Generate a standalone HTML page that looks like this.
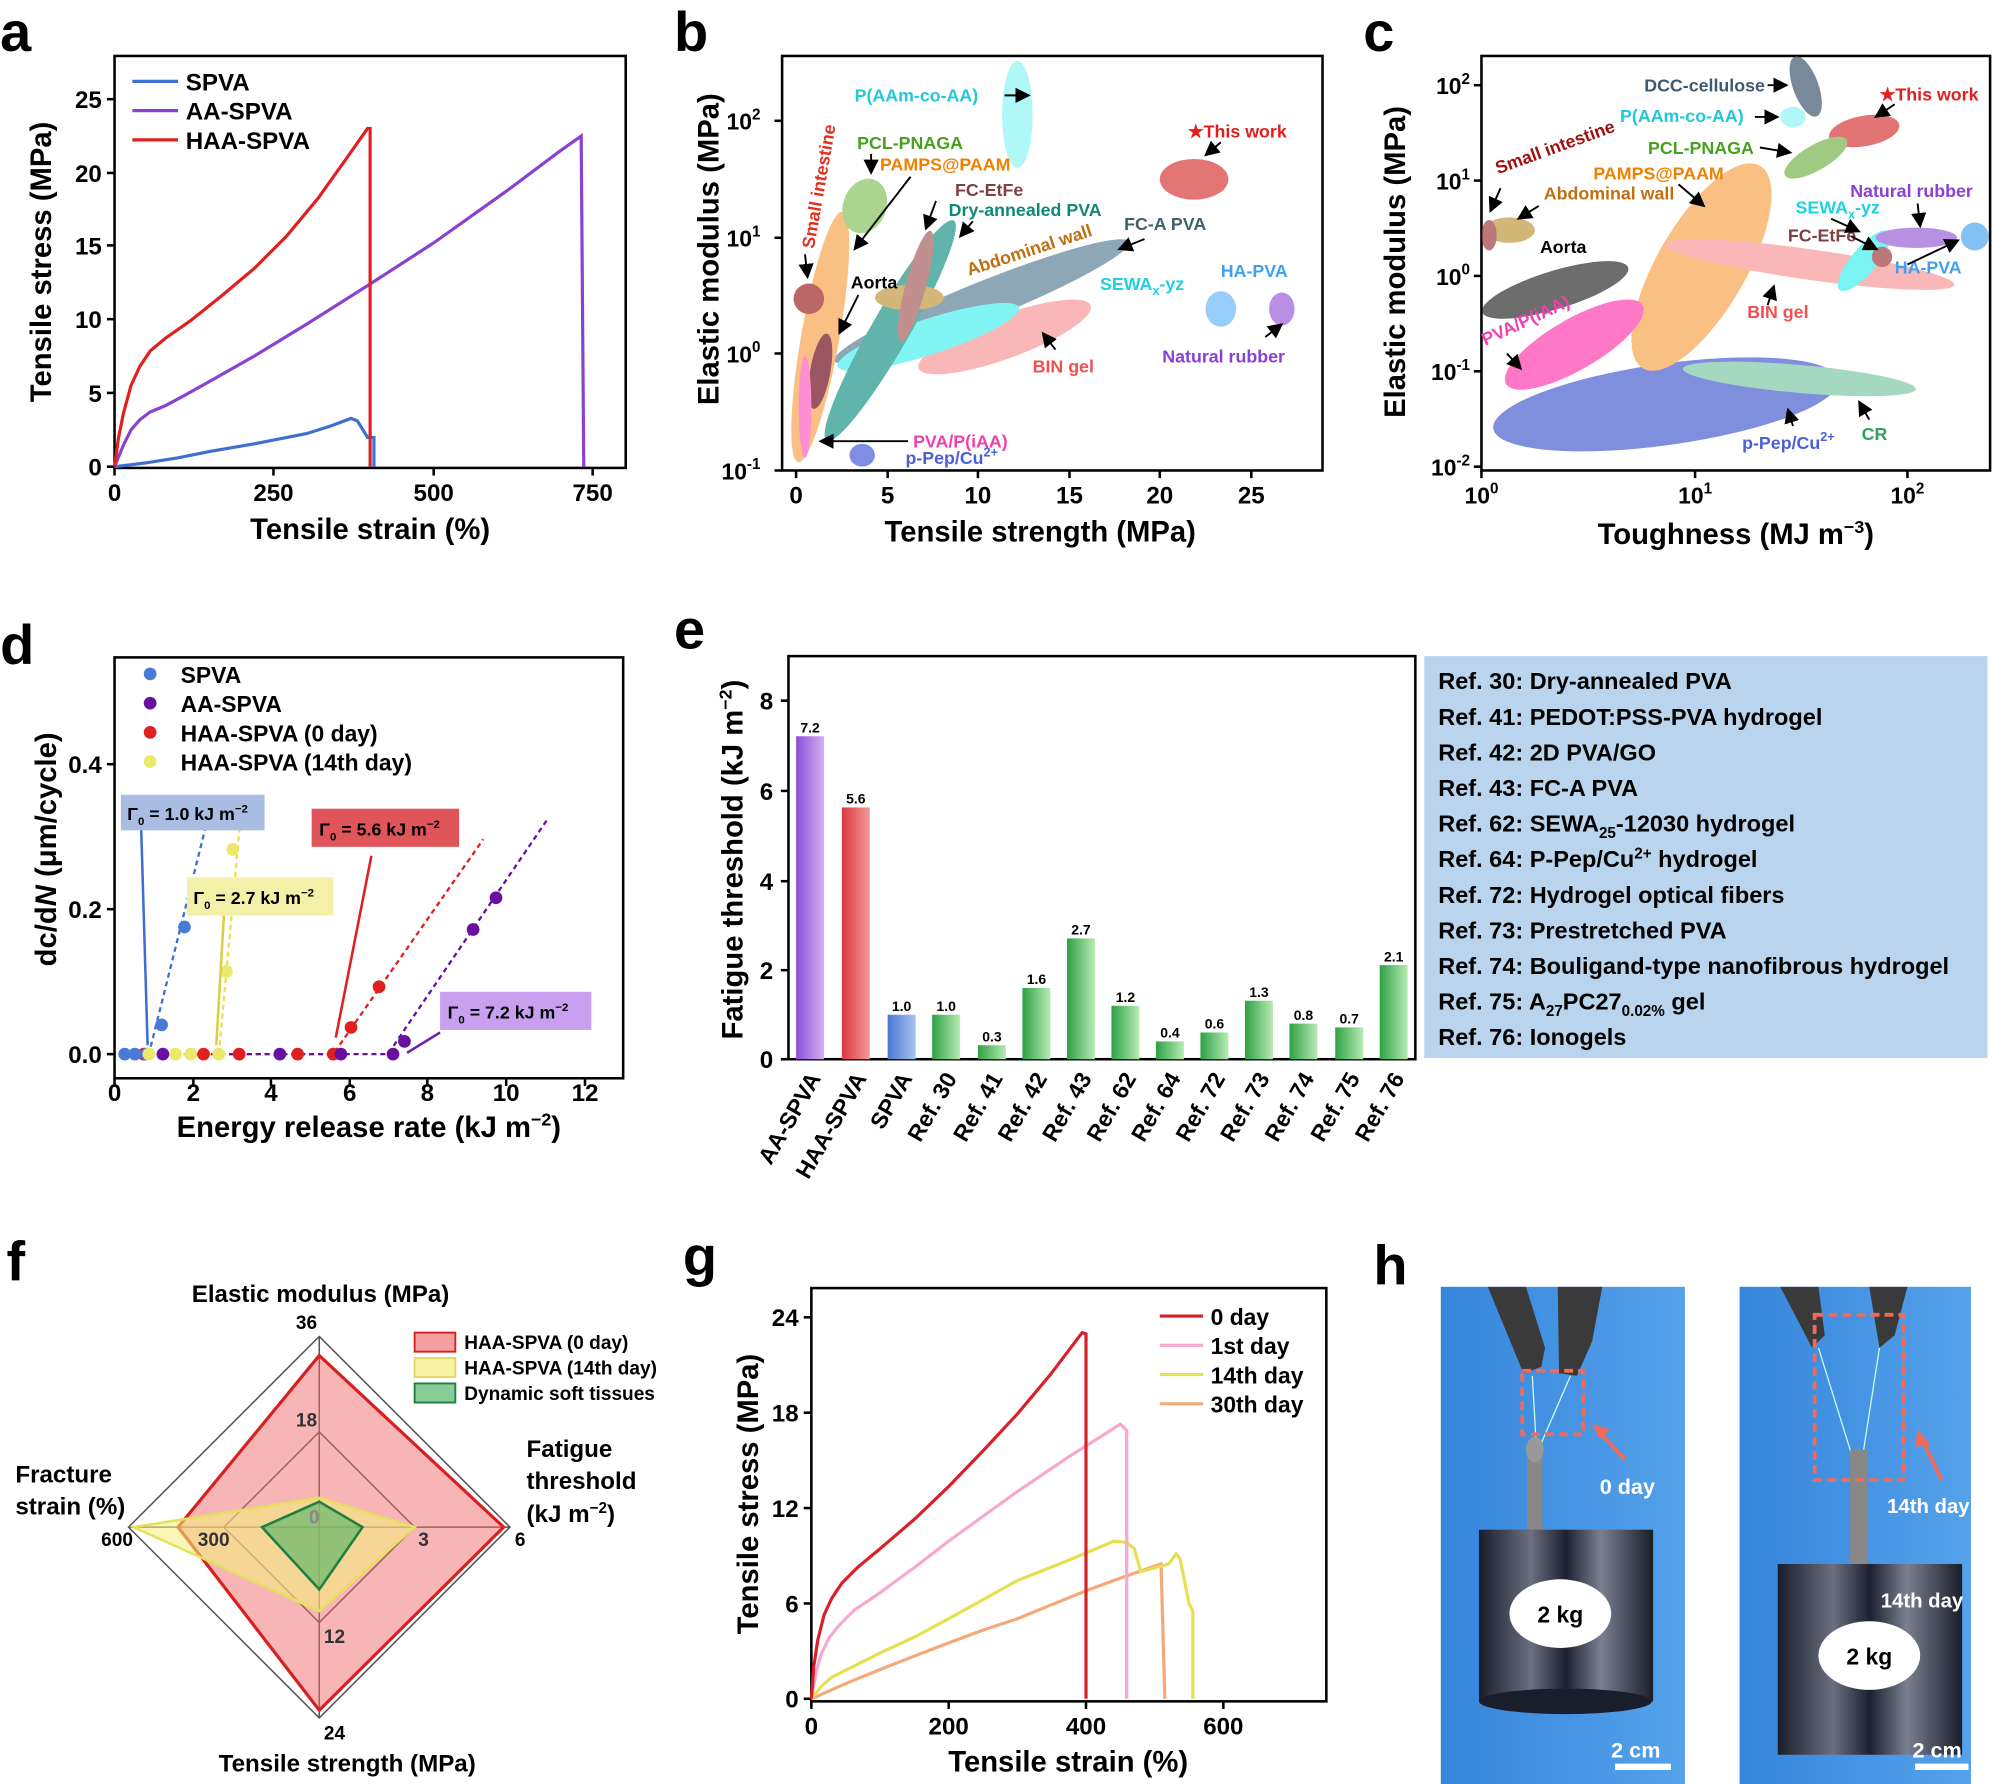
<!DOCTYPE html>
<html><head><meta charset="utf-8"><style>
html,body{margin:0;padding:0;background:#fff}
svg{display:block}
text{font-family:"Liberation Sans",Arial,sans-serif;font-weight:bold}
</style></head><body>
<svg width="1994" height="1784" viewBox="0 0 1568 1403" xmlns="http://www.w3.org/2000/svg">
<defs>
<linearGradient id="gp" x1="0" x2="1"><stop offset="0" stop-color="#8a4fd6"/><stop offset="1" stop-color="#d6b0f5"/></linearGradient>
<linearGradient id="gr" x1="0" x2="1"><stop offset="0" stop-color="#d9393f"/><stop offset="1" stop-color="#f29a9a"/></linearGradient>
<linearGradient id="gb" x1="0" x2="1"><stop offset="0" stop-color="#4a78d0"/><stop offset="1" stop-color="#a8c3f0"/></linearGradient>
<linearGradient id="gg" x1="0" x2="1"><stop offset="0" stop-color="#2ea043"/><stop offset="1" stop-color="#b8ecb5"/></linearGradient>
<linearGradient id="ph" x1="0" x2="1"><stop offset="0" stop-color="#3585dc"/><stop offset="1" stop-color="#55a2ea"/></linearGradient>
<linearGradient id="wt" x1="0" x2="1"><stop offset="0" stop-color="#1a1d2a"/><stop offset="0.3" stop-color="#6a7080"/><stop offset="0.5" stop-color="#1c2030"/><stop offset="0.7" stop-color="#7a8090"/><stop offset="1" stop-color="#1a1d2a"/></linearGradient>
<marker id="ar" markerWidth="8" markerHeight="8" refX="7" refY="4" orient="auto"><path d="M0,0 L8,4 L0,8 z" fill="#000"/></marker>
</defs>

<g font-size="44">
<text x="0" y="40">a</text><text x="530" y="40">b</text><text x="1072" y="40">c</text>
<text x="0" y="522">d</text><text x="530" y="510">e</text>
<text x="5" y="1007">f</text><text x="537" y="1003">g</text><text x="1080" y="1010">h</text>
</g>

<!-- ===== a ===== -->
<rect x="90" y="44" width="402" height="324" fill="none" stroke="#000" stroke-width="2"/>
<g stroke="#000" stroke-width="2">
<line x1="90" y1="368" x2="90" y2="374"/><line x1="215" y1="368" x2="215" y2="374"/><line x1="341" y1="368" x2="341" y2="374"/><line x1="466" y1="368" x2="466" y2="374"/>
<line x1="84" y1="367" x2="90" y2="367"/><line x1="84" y1="309" x2="90" y2="309"/><line x1="84" y1="251" x2="90" y2="251"/><line x1="84" y1="193" x2="90" y2="193"/><line x1="84" y1="136" x2="90" y2="136"/><line x1="84" y1="78" x2="90" y2="78"/>
</g>
<g font-size="19" text-anchor="middle"><text x="90" y="394">0</text><text x="215" y="394">250</text><text x="341" y="394">500</text><text x="466" y="394">750</text></g>
<g font-size="19" text-anchor="end"><text x="80" y="374">0</text><text x="80" y="316">5</text><text x="80" y="258">10</text><text x="80" y="200">15</text><text x="80" y="143">20</text><text x="80" y="85">25</text></g>
<text x="291" y="424" font-size="23" text-anchor="middle">Tensile strain (%)</text>
<text transform="translate(40,206) rotate(-90)" font-size="23" text-anchor="middle">Tensile stress (MPa)</text>
<polyline fill="none" stroke="#3f6fd0" stroke-width="2.5" points="90,367 115,364 140,360 165,355 200,349 241,341 260,335 276,329 281,331 289,344 294,344 294,367"/>
<polyline fill="none" stroke="#8a40d0" stroke-width="2.5" points="90,367 97,350 103,338 110,330 118,324 130,319 145,311 170,297 200,280 241,255 290,224 341,191 400,149 440,119 457,107 459,367"/>
<polyline fill="none" stroke="#e02020" stroke-width="2.5" points="90,367 93,345 97,325 103,303 110,288 118,276 130,266 150,252 175,232 200,211 225,186 250,156 270,128 289,101 291,101 291,367"/>
<g font-size="19"><line x1="104" y1="64" x2="140" y2="64" stroke="#3f6fd0" stroke-width="2.5"/><text x="146" y="71">SPVA</text>
<line x1="104" y1="87" x2="140" y2="87" stroke="#8a40d0" stroke-width="2.5"/><text x="146" y="94">AA-SPVA</text>
<line x1="104" y1="110" x2="140" y2="110" stroke="#e02020" stroke-width="2.5"/><text x="146" y="117">HAA-SPVA</text></g>

<!-- ===== b ===== -->
<rect x="615" y="44" width="425" height="326" fill="none" stroke="#000" stroke-width="2"/>
<g stroke="#000" stroke-width="2">
<line x1="626" y1="370" x2="626" y2="376"/><line x1="698" y1="370" x2="698" y2="376"/><line x1="769" y1="370" x2="769" y2="376"/><line x1="841" y1="370" x2="841" y2="376"/><line x1="912" y1="370" x2="912" y2="376"/><line x1="984" y1="370" x2="984" y2="376"/>
<line x1="609" y1="370" x2="615" y2="370"/><line x1="609" y1="278" x2="615" y2="278"/><line x1="609" y1="187" x2="615" y2="187"/><line x1="609" y1="95" x2="615" y2="95"/>
</g>
<g font-size="19" text-anchor="middle"><text x="626" y="396">0</text><text x="698" y="396">5</text><text x="769" y="396">10</text><text x="841" y="396">15</text><text x="912" y="396">20</text><text x="984" y="396">25</text></g>
<g font-size="18" text-anchor="end"><text x="598" y="377">10<tspan font-size="12" dy="-8">-1</tspan></text><text x="598" y="285">10<tspan font-size="12" dy="-8">0</tspan></text><text x="598" y="194">10<tspan font-size="12" dy="-8">1</tspan></text><text x="598" y="102">10<tspan font-size="12" dy="-8">2</tspan></text></g>
<text x="818" y="426" font-size="23" text-anchor="middle">Tensile strength (MPa)</text>
<text transform="translate(565,196) rotate(-90)" font-size="23" text-anchor="middle">Elastic modulus (MPa)</text>
<g opacity="0.7">
<ellipse cx="772" cy="237" rx="125" ry="15" transform="rotate(-22 772 237)" fill="#5e8398"/>
<ellipse cx="790" cy="265" rx="72" ry="17" transform="rotate(-20 790 265)" fill="#f89a9a"/>
<ellipse cx="730" cy="265" rx="75" ry="14" transform="rotate(-18 730 265)" fill="#4ef0f0"/>
<ellipse cx="700" cy="260" rx="15" ry="100" transform="rotate(30 700 260)" fill="#1f958a"/>
<ellipse cx="645" cy="265" rx="15" ry="100" transform="rotate(10 645 265)" fill="#f9a550"/>
<ellipse cx="715" cy="234" rx="27" ry="10" fill="#c09a40"/>
<ellipse cx="720" cy="225" rx="8" ry="45" transform="rotate(15 720 225)" fill="#a86060"/>
<ellipse cx="645" cy="292" rx="8" ry="30" transform="rotate(10 645 292)" fill="#701020"/>
<ellipse cx="633" cy="320" rx="5" ry="40" fill="#ff60c0"/>
<circle cx="636" cy="235" r="12" fill="#a02828"/>
<ellipse cx="680" cy="162" rx="17" ry="22" transform="rotate(20 680 162)" fill="#88c460"/>
<ellipse cx="800" cy="90" rx="12" ry="42" fill="#8ff4f4"/>
<ellipse cx="939" cy="141" rx="27" ry="16" fill="#d83a3a"/>
<ellipse cx="960" cy="243" rx="12" ry="14" fill="#6ab8f8"/>
<ellipse cx="1008" cy="243" rx="10" ry="13" fill="#9a60d8"/>
<ellipse cx="678" cy="358" rx="10" ry="9" fill="#4a5fd8"/>
</g>
<g font-size="14">
<text x="672" y="80" fill="#20c8d8">P(AAm-co-AA)</text>
<text x="674" y="117" fill="#48a020">PCL-PNAGA</text>
<text x="692" y="134" fill="#f08000">PAMPS@PAAM</text>
<text x="751" y="154" fill="#804040">FC-EtFe</text>
<text x="746" y="170" fill="#108878">Dry-annealed PVA</text>
<text x="669" y="227">Aorta</text>
<text x="762" y="217" fill="#c07010" transform="rotate(-18 762 217)">Abdominal wall</text>
<text x="884" y="181" fill="#406070">FC-A PVA</text>
<text x="865" y="228" fill="#20d0e0">SEWA<tspan font-size="10" dy="4">x</tspan><tspan dy="-4">-yz</tspan></text>
<text x="960" y="218" fill="#40a0f0">HA-PVA</text>
<text x="914" y="285" fill="#8a40d0">Natural rubber</text>
<text x="812" y="293" fill="#f05050">BIN gel</text>
<text x="934" y="108" fill="#e02020">★This work</text>
<text x="718" y="352" fill="#f040b0">PVA/P(iAA)</text>
<text x="712" y="365" fill="#4a5fd8">p-Pep/Cu<tspan font-size="10" dy="-6">2+</tspan></text>
<text transform="translate(640,196) rotate(-80)" fill="#e03020">Small intestine</text>
</g>
<g stroke="#000" stroke-width="1.5" fill="none" marker-end="url(#ar)">
<line x1="790" y1="75" x2="809" y2="75"/><line x1="685" y1="121" x2="685" y2="136"/><line x1="716" y1="139" x2="672" y2="196"/>
<line x1="736" y1="158" x2="728" y2="180"/><line x1="765" y1="174" x2="755" y2="186"/><line x1="675" y1="232" x2="660" y2="262"/>
<line x1="900" y1="188" x2="880" y2="196"/><line x1="960" y1="112" x2="948" y2="122"/><line x1="995" y1="265" x2="1008" y2="255"/>
<line x1="830" y1="275" x2="820" y2="262"/><line x1="714" y1="347" x2="645" y2="347"/><line x1="633" y1="200" x2="635" y2="218"/>
</g>

<!-- ===== c ===== -->
<rect x="1165" y="44" width="400" height="326" fill="none" stroke="#000" stroke-width="2"/>
<g stroke="#000" stroke-width="2">
<line x1="1165" y1="370" x2="1165" y2="376"/><line x1="1333" y1="370" x2="1333" y2="376"/><line x1="1500" y1="370" x2="1500" y2="376"/>
<line x1="1159" y1="367" x2="1165" y2="367"/><line x1="1159" y1="292" x2="1165" y2="292"/><line x1="1159" y1="217" x2="1165" y2="217"/><line x1="1159" y1="142" x2="1165" y2="142"/><line x1="1159" y1="67" x2="1165" y2="67"/>
</g>
<g font-size="18" text-anchor="middle"><text x="1165" y="396">10<tspan font-size="12" dy="-8">0</tspan></text><text x="1333" y="396">10<tspan font-size="12" dy="-8">1</tspan></text><text x="1500" y="396">10<tspan font-size="12" dy="-8">2</tspan></text></g>
<g font-size="18" text-anchor="end"><text x="1156" y="374">10<tspan font-size="12" dy="-8">-2</tspan></text><text x="1156" y="299">10<tspan font-size="12" dy="-8">-1</tspan></text><text x="1156" y="224">10<tspan font-size="12" dy="-8">0</tspan></text><text x="1156" y="149">10<tspan font-size="12" dy="-8">1</tspan></text><text x="1156" y="74">10<tspan font-size="12" dy="-8">2</tspan></text></g>
<text x="1365" y="428" font-size="23" text-anchor="middle">Toughness (MJ m<tspan font-size="14" dy="-9">−3</tspan><tspan dy="9">)</tspan></text>
<text transform="translate(1105,206) rotate(-90)" font-size="23" text-anchor="middle">Elastic modulus (MPa)</text>
<g opacity="0.7">
<ellipse cx="1310" cy="318" rx="137" ry="32" transform="rotate(-8 1310 318)" fill="#4a5fd0"/>
<ellipse cx="1415" cy="298" rx="92" ry="11" transform="rotate(5 1415 298)" fill="#80c8a8"/>
<ellipse cx="1338" cy="210" rx="35" ry="92" transform="rotate(30 1338 210)" fill="#f9a550"/>
<ellipse cx="1423" cy="208" rx="115" ry="12" transform="rotate(8 1423 208)" fill="#f89a9a"/>
<ellipse cx="1223" cy="228" rx="60" ry="15" transform="rotate(-17 1223 228)" fill="#303030"/>
<ellipse cx="1238" cy="271" rx="62" ry="20" transform="rotate(-30 1238 271)" fill="#ff40b0"/>
<ellipse cx="1187" cy="181" rx="20" ry="10" fill="#c09a40"/>
<ellipse cx="1171" cy="185" rx="6" ry="12" fill="#a04040"/>
<ellipse cx="1466" cy="205" rx="10" ry="30" transform="rotate(40 1466 205)" fill="#40f0f0"/>
<ellipse cx="1480" cy="202" rx="8" ry="8" fill="#a04040"/>
<ellipse cx="1507" cy="187" rx="32" ry="8" fill="#9a60d8"/>
<circle cx="1553" cy="186" r="11" fill="#50a8f0"/>
<ellipse cx="1420" cy="68" rx="10" ry="25" transform="rotate(-20 1420 68)" fill="#405870"/>
<ellipse cx="1410" cy="92" rx="10" ry="8" fill="#8ff4f4"/>
<ellipse cx="1466" cy="103" rx="28" ry="12" transform="rotate(-10 1466 103)" fill="#d83a3a"/>
<ellipse cx="1428" cy="124" rx="28" ry="10" transform="rotate(-30 1428 124)" fill="#78b450"/>
</g>
<g font-size="14">
<text x="1293" y="72" fill="#405870">DCC-cellulose</text>
<text x="1274" y="96" fill="#20c8d8">P(AAm-co-AA)</text>
<text x="1478" y="79" fill="#e02020">★This work</text>
<text x="1296" y="121" fill="#48a020">PCL-PNAGA</text>
<text x="1253" y="141" fill="#f08000">PAMPS@PAAM</text>
<text x="1214" y="157" fill="#c07010">Abdominal wall</text>
<text x="1178" y="137" fill="#a01010" transform="rotate(-20 1178 137)">Small intestine</text>
<text x="1211" y="199">Aorta</text>
<text x="1168" y="272" fill="#f040b0" transform="rotate(-25 1168 272)">PVA/P(iAA)</text>
<text x="1412" y="168" fill="#20d0e0">SEWA<tspan font-size="10" dy="4">x</tspan><tspan dy="-4">-yz</tspan></text>
<text x="1455" y="155" fill="#8a40d0">Natural rubber</text>
<text x="1406" y="190" fill="#804040">FC-EtFe</text>
<text x="1490" y="215" fill="#40a0f0">HA-PVA</text>
<text x="1374" y="250" fill="#f05050">BIN gel</text>
<text x="1370" y="353" fill="#4a5fd8">p-Pep/Cu<tspan font-size="10" dy="-6">2+</tspan></text>
<text x="1464" y="346" fill="#30a060">CR</text>
</g>
<g stroke="#000" stroke-width="1.5" fill="none" marker-end="url(#ar)">
<line x1="1390" y1="67" x2="1405" y2="67"/><line x1="1380" y1="92" x2="1398" y2="92"/><line x1="1384" y1="116" x2="1408" y2="120"/>
<line x1="1320" y1="145" x2="1340" y2="162"/><line x1="1210" y1="162" x2="1194" y2="172"/><line x1="1180" y1="148" x2="1172" y2="166"/>
<line x1="1490" y1="82" x2="1475" y2="92"/><line x1="1185" y1="278" x2="1196" y2="290"/><line x1="1440" y1="172" x2="1462" y2="182"/>
<line x1="1508" y1="160" x2="1510" y2="178"/><line x1="1456" y1="186" x2="1476" y2="196"/><line x1="1500" y1="208" x2="1540" y2="189"/>
<line x1="1410" y1="335" x2="1406" y2="322"/><line x1="1470" y1="330" x2="1462" y2="316"/><line x1="1390" y1="240" x2="1395" y2="225"/>
</g>

<!-- ===== d ===== -->
<rect x="90" y="517" width="400" height="331" fill="none" stroke="#000" stroke-width="2"/>
<g stroke="#000" stroke-width="2">
<line x1="90" y1="848" x2="90" y2="854"/><line x1="152" y1="848" x2="152" y2="854"/><line x1="213" y1="848" x2="213" y2="854"/><line x1="275" y1="848" x2="275" y2="854"/><line x1="336" y1="848" x2="336" y2="854"/><line x1="398" y1="848" x2="398" y2="854"/><line x1="460" y1="848" x2="460" y2="854"/>
<line x1="84" y1="829" x2="90" y2="829"/><line x1="84" y1="715" x2="90" y2="715"/><line x1="84" y1="601" x2="90" y2="601"/>
</g>
<g font-size="19" text-anchor="middle"><text x="90" y="866">0</text><text x="152" y="866">2</text><text x="213" y="866">4</text><text x="275" y="866">6</text><text x="336" y="866">8</text><text x="398" y="866">10</text><text x="460" y="866">12</text></g>
<g font-size="19" text-anchor="end"><text x="80" y="836">0.0</text><text x="80" y="722">0.2</text><text x="80" y="608">0.4</text></g>
<text x="290" y="894" font-size="23" text-anchor="middle">Energy release rate (kJ m<tspan font-size="14" dy="-9">−2</tspan><tspan dy="9">)</tspan></text>
<text transform="translate(44,668) rotate(-90)" font-size="23" text-anchor="middle">dc/d<tspan font-style="italic">N</tspan> (μm/cycle)</text>
<g stroke-dasharray="4,3" stroke-width="1.8" fill="none">
<polyline points="95,829 117,829 167,629" stroke="#3f6fd0"/>
<polyline points="95,829 172,829 190,633" stroke="#e8e050"/>
<polyline points="110,829 262,829 380,660" stroke="#e02020"/>
<polyline points="110,829 305,829 430,645" stroke="#6a10a0"/>
</g>
<g>
<circle cx="113" cy="829" r="5" fill="#e02020"/><circle cx="160" cy="829" r="5" fill="#e02020"/><circle cx="188" cy="829" r="5" fill="#e02020"/><circle cx="234" cy="829" r="5" fill="#e02020"/><circle cx="262" cy="829" r="5" fill="#e02020"/><circle cx="276" cy="808" r="5" fill="#e02020"/><circle cx="298" cy="776" r="5" fill="#e02020"/>
<circle cx="128" cy="829" r="5" fill="#6a10a0"/><circle cx="220" cy="829" r="5" fill="#6a10a0"/><circle cx="268" cy="829" r="5" fill="#6a10a0"/><circle cx="309" cy="829" r="5" fill="#6a10a0"/><circle cx="318" cy="819" r="5" fill="#6a10a0"/><circle cx="372" cy="731" r="5" fill="#6a10a0"/><circle cx="390" cy="706" r="5" fill="#6a10a0"/>
<circle cx="98" cy="829" r="5" fill="#4a7ad8"/><circle cx="106" cy="829" r="5" fill="#4a7ad8"/><circle cx="115" cy="829" r="5" fill="#4a7ad8"/><circle cx="127" cy="806" r="5" fill="#4a7ad8"/><circle cx="145" cy="729" r="5" fill="#4a7ad8"/>
<circle cx="117" cy="829" r="5" fill="#ece86a"/><circle cx="138" cy="829" r="5" fill="#ece86a"/><circle cx="150" cy="829" r="5" fill="#ece86a"/><circle cx="172" cy="829" r="5" fill="#ece86a"/><circle cx="178" cy="764" r="5" fill="#ece86a"/><circle cx="183" cy="668" r="5" fill="#ece86a"/>
</g>
<g font-size="18">
<circle cx="118" cy="530" r="5" fill="#4a7ad8"/><text x="142" y="537">SPVA</text>
<circle cx="118" cy="553" r="5" fill="#6a10a0"/><text x="142" y="560">AA-SPVA</text>
<circle cx="118" cy="576" r="5" fill="#e02020"/><text x="142" y="583">HAA-SPVA (0 day)</text>
<circle cx="118" cy="599" r="5" fill="#ece86a"/><text x="142" y="606">HAA-SPVA (14th day)</text>
</g>
<g font-size="14">
<rect x="95" y="625" width="113" height="28" fill="#a9bde3"/><text x="100" y="645">Γ<tspan font-size="9" dy="4">0</tspan><tspan dy="-4"> = 1.0 kJ m</tspan><tspan font-size="9" dy="-6">−2</tspan></text>
<rect x="147" y="690" width="115" height="30" fill="#f5f0a8"/><text x="152" y="711">Γ<tspan font-size="9" dy="4">0</tspan><tspan dy="-4"> = 2.7 kJ m</tspan><tspan font-size="9" dy="-6">−2</tspan></text>
<rect x="245" y="636" width="116" height="30" fill="#e0555a"/><text x="251" y="657">Γ<tspan font-size="9" dy="4">0</tspan><tspan dy="-4"> = 5.6 kJ m</tspan><tspan font-size="9" dy="-6">−2</tspan></text>
<rect x="346" y="780" width="119" height="30" fill="#c9a0f0"/><text x="352" y="801">Γ<tspan font-size="9" dy="4">0</tspan><tspan dy="-4"> = 7.2 kJ m</tspan><tspan font-size="9" dy="-6">−2</tspan></text>
</g>
<g stroke-width="2" fill="none">
<line x1="111" y1="653" x2="116" y2="822" stroke="#3f6fd0"/>
<line x1="176" y1="720" x2="170" y2="822" stroke="#d8d040"/>
<line x1="292" y1="673" x2="264" y2="816" stroke="#e02020"/>
<line x1="346" y1="812" x2="320" y2="828" stroke="#7020b0"/>
</g>

<!-- ===== e ===== -->
<rect x="620" y="516" width="493" height="317" fill="none" stroke="#000" stroke-width="2"/>
<g stroke="#000" stroke-width="2">
<line x1="614" y1="833" x2="620" y2="833"/><line x1="614" y1="763" x2="620" y2="763"/><line x1="614" y1="693" x2="620" y2="693"/><line x1="614" y1="622" x2="620" y2="622"/><line x1="614" y1="551" x2="620" y2="551"/>
</g>
<g font-size="19" text-anchor="end"><text x="608" y="840">0</text><text x="608" y="770">2</text><text x="608" y="700">4</text><text x="608" y="629">6</text><text x="608" y="558">8</text></g>
<text transform="translate(584,676) rotate(-90)" font-size="23" text-anchor="middle">Fatigue threshold (kJ m<tspan font-size="14" dy="-9">−2</tspan><tspan dy="9">)</tspan></text>
<g>
<rect x="626" y="579" width="22" height="254" fill="url(#gp)"/>
<rect x="662" y="635" width="22" height="198" fill="url(#gr)"/>
<rect x="698" y="798" width="22" height="35" fill="url(#gb)"/>
<rect x="733" y="798" width="22" height="35" fill="url(#gg)"/>
<rect x="769" y="822" width="22" height="11" fill="url(#gg)"/>
<rect x="804" y="777" width="22" height="56" fill="url(#gg)"/>
<rect x="839" y="738" width="22" height="95" fill="url(#gg)"/>
<rect x="874" y="791" width="22" height="42" fill="url(#gg)"/>
<rect x="909" y="819" width="22" height="14" fill="url(#gg)"/>
<rect x="944" y="812" width="22" height="21" fill="url(#gg)"/>
<rect x="979" y="787" width="22" height="46" fill="url(#gg)"/>
<rect x="1014" y="805" width="22" height="28" fill="url(#gg)"/>
<rect x="1050" y="808" width="22" height="25" fill="url(#gg)"/>
<rect x="1085" y="759" width="22" height="74" fill="url(#gg)"/>
</g>
<g font-size="11" text-anchor="middle">
<text x="637" y="576">7.2</text><text x="673" y="632">5.6</text><text x="709" y="795">1.0</text><text x="744" y="795">1.0</text><text x="780" y="819">0.3</text><text x="815" y="774">1.6</text><text x="850" y="735">2.7</text><text x="885" y="788">1.2</text><text x="920" y="816">0.4</text><text x="955" y="809">0.6</text><text x="990" y="784">1.3</text><text x="1025" y="802">0.8</text><text x="1061" y="805">0.7</text><text x="1096" y="756">2.1</text>
</g>
<g font-size="18" text-anchor="end">
<text transform="translate(646,848) rotate(-60)">AA-SPVA</text>
<text transform="translate(682,848) rotate(-60)">HAA-SPVA</text>
<text transform="translate(718,848) rotate(-60)">SPVA</text>
<text transform="translate(753,848) rotate(-60)">Ref. 30</text>
<text transform="translate(789,848) rotate(-60)">Ref. 41</text>
<text transform="translate(824,848) rotate(-60)">Ref. 42</text>
<text transform="translate(859,848) rotate(-60)">Ref. 43</text>
<text transform="translate(894,848) rotate(-60)">Ref. 62</text>
<text transform="translate(929,848) rotate(-60)">Ref. 64</text>
<text transform="translate(964,848) rotate(-60)">Ref. 72</text>
<text transform="translate(999,848) rotate(-60)">Ref. 73</text>
<text transform="translate(1034,848) rotate(-60)">Ref. 74</text>
<text transform="translate(1070,848) rotate(-60)">Ref. 75</text>
<text transform="translate(1105,848) rotate(-60)">Ref. 76</text>
</g>
<rect x="1120" y="516" width="443" height="316" fill="#b9d4ec"/>
<g font-size="18.5">
<text x="1131" y="542">Ref. 30: Dry-annealed PVA</text>
<text x="1131" y="570">Ref. 41: PEDOT:PSS-PVA hydrogel</text>
<text x="1131" y="598">Ref. 42: 2D PVA/GO</text>
<text x="1131" y="626">Ref. 43: FC-A PVA</text>
<text x="1131" y="654">Ref. 62: SEWA<tspan font-size="12" dy="5">25</tspan><tspan dy="-5">-12030 hydrogel</tspan></text>
<text x="1131" y="682">Ref. 64: P-Pep/Cu<tspan font-size="12" dy="-7">2+</tspan><tspan dy="7"> hydrogel</tspan></text>
<text x="1131" y="710">Ref. 72: Hydrogel optical fibers</text>
<text x="1131" y="738">Ref. 73: Prestretched PVA</text>
<text x="1131" y="766">Ref. 74: Bouligand-type nanofibrous hydrogel</text>
<text x="1131" y="794">Ref. 75: A<tspan font-size="12" dy="5">27</tspan><tspan dy="-5">PC27</tspan><tspan font-size="12" dy="5">0.02%</tspan><tspan dy="-5"> gel</tspan></text>
<text x="1131" y="822">Ref. 76: Ionogels</text>
</g>

<!-- ===== f ===== -->
<g fill="none" stroke="#555" stroke-width="1.2">
<polygon points="251,1051 401,1201 251,1351 101,1201"/>
<polygon points="251,1126 326,1201 251,1276 176,1201"/>
<line x1="251" y1="1051" x2="251" y2="1351"/><line x1="101" y1="1201" x2="401" y2="1201"/>
</g>
<polygon points="251,1066 396,1201 251,1345 140,1201" fill="#f06b6b" fill-opacity="0.5" stroke="#d82020" stroke-width="2.5"/>
<polygon points="251,1178 326,1201 251,1267 105,1201" fill="#f5f07a" fill-opacity="0.55" stroke="#e6e060" stroke-width="2"/>
<polygon points="251,1181 285,1201 251,1250 206,1201" fill="#40b060" fill-opacity="0.55" stroke="#208040" stroke-width="2"/>
<g font-size="15" text-anchor="middle" fill="#333">
<text x="241" y="1045" fill="#000">36</text><text x="241" y="1122">18</text><text x="247" y="1198" fill="#888">0</text>
<text x="263" y="1292">12</text><text x="263" y="1368" fill="#000">24</text>
<text x="92" y="1216" fill="#000">600</text><text x="168" y="1216">300</text><text x="333" y="1216">3</text><text x="409" y="1216" fill="#000">6</text>
</g>
<g font-size="19">
<text x="252" y="1024" text-anchor="middle">Elastic modulus (MPa)</text>
<text x="273" y="1393" text-anchor="middle">Tensile strength (MPa)</text>
<text x="12" y="1166">Fracture</text><text x="12" y="1191">strain (%)</text>
<text x="414" y="1146">Fatigue</text><text x="414" y="1171">threshold</text><text x="414" y="1197">(kJ m<tspan font-size="12" dy="-7">−2</tspan><tspan dy="7">)</tspan></text>
</g>
<g font-size="15">
<rect x="326" y="1048" width="32" height="15" fill="#f4a0a0" stroke="#d82020" stroke-width="1.5"/><text x="365" y="1061">HAA-SPVA (0 day)</text>
<rect x="326" y="1068" width="32" height="15" fill="#f7f3a5" stroke="#e0d860" stroke-width="1.5"/><text x="365" y="1081">HAA-SPVA (14th day)</text>
<rect x="326" y="1088" width="32" height="15" fill="#88cc98" stroke="#208040" stroke-width="1.5"/><text x="365" y="1101">Dynamic soft tissues</text>
</g>

<!-- ===== g ===== -->
<rect x="638" y="1013" width="405" height="325" fill="none" stroke="#000" stroke-width="2"/>
<g stroke="#000" stroke-width="2">
<line x1="638" y1="1338" x2="638" y2="1344"/><line x1="746" y1="1338" x2="746" y2="1344"/><line x1="854" y1="1338" x2="854" y2="1344"/><line x1="962" y1="1338" x2="962" y2="1344"/>
<line x1="632" y1="1336" x2="638" y2="1336"/><line x1="632" y1="1261" x2="638" y2="1261"/><line x1="632" y1="1186" x2="638" y2="1186"/><line x1="632" y1="1111" x2="638" y2="1111"/><line x1="632" y1="1036" x2="638" y2="1036"/>
</g>
<g font-size="19" text-anchor="middle"><text x="638" y="1364">0</text><text x="746" y="1364">200</text><text x="854" y="1364">400</text><text x="962" y="1364">600</text></g>
<g font-size="19" text-anchor="end"><text x="628" y="1343">0</text><text x="628" y="1268">6</text><text x="628" y="1193">12</text><text x="628" y="1118">18</text><text x="628" y="1043">24</text></g>
<text x="840" y="1393" font-size="23" text-anchor="middle">Tensile strain (%)</text>
<text transform="translate(596,1175) rotate(-90)" font-size="23" text-anchor="middle">Tensile stress (MPa)</text>
<polyline fill="none" stroke="#f5a878" stroke-width="2.5" points="638,1336 665,1324 692,1313 720,1302 746,1292 773,1282 800,1273 827,1262 854,1251 884,1240 913,1230 916,1336"/>
<polyline fill="none" stroke="#e6e050" stroke-width="2.5" points="638,1336 646,1326 654,1319 670,1311 692,1300 720,1287 746,1273 773,1258 800,1243 838,1228 876,1212 886,1213 892,1218 897,1236 919,1230 925,1222 928,1226 935,1261 938,1267 938,1336"/>
<polyline fill="none" stroke="#f8a8d0" stroke-width="2.5" points="638,1336 642,1314 646,1300 652,1288 660,1278 672,1266 690,1254 720,1232 746,1212 775,1191 800,1173 840,1146 870,1127 881,1120 886,1125 886,1336"/>
<polyline fill="none" stroke="#d8202a" stroke-width="2.5" points="638,1336 640,1310 643,1290 648,1270 654,1257 662,1245 674,1233 692,1218 720,1194 746,1169 773,1141 800,1112 826,1081 851,1048 854,1049 854,1336"/>
<g font-size="18">
<line x1="912" y1="1035" x2="946" y2="1035" stroke="#d8202a" stroke-width="2.5"/><text x="952" y="1042">0 day</text>
<line x1="912" y1="1058" x2="946" y2="1058" stroke="#f8a8d0" stroke-width="2.5"/><text x="952" y="1065">1st day</text>
<line x1="912" y1="1081" x2="946" y2="1081" stroke="#e6e050" stroke-width="2.5"/><text x="952" y="1088">14th day</text>
<line x1="912" y1="1104" x2="946" y2="1104" stroke="#f5a878" stroke-width="2.5"/><text x="952" y="1111">30th day</text>
</g>

<!-- ===== h ===== -->
<rect x="1133" y="1012" width="192" height="391" fill="url(#ph)"/>
<rect x="1368" y="1012" width="182" height="391" fill="url(#ph)"/>
<path d="M1170,1012 L1200,1012 L1215,1060 L1212,1075 L1198,1080 Z" fill="#3a3a3a"/>
<path d="M1225,1012 L1260,1012 L1252,1055 L1240,1082 L1226,1080 Z" fill="#3a3a3a"/>
<line x1="1205" y1="1082" x2="1208" y2="1135" stroke="#cfe" stroke-width="1"/><line x1="1235" y1="1082" x2="1212" y2="1135" stroke="#cfe" stroke-width="1"/>
<rect x="1201" y="1135" width="12" height="80" fill="#888"/>
<ellipse cx="1207" cy="1140" rx="7" ry="10" fill="#999"/>
<rect x="1163" y="1203" width="137" height="135" fill="url(#wt)"/>
<ellipse cx="1231" cy="1338" rx="68" ry="10" fill="#1a1d2a"/>
<rect x="1197" y="1078" width="48" height="50" fill="none" stroke="#f06a5a" stroke-width="3" stroke-dasharray="7,4"/>
<line x1="1278" y1="1148" x2="1257" y2="1125" stroke="#f06a5a" stroke-width="3"/><polygon points="1252,1120 1266,1124 1258,1132" fill="#f06a5a"/>
<ellipse cx="1227" cy="1269" rx="40" ry="27" fill="#fff"/>
<text x="1227" y="1276" font-size="18" text-anchor="middle">2 kg</text>
<text x="1258" y="1175" font-size="17" fill="#fff">0 day</text>
<text x="1267" y="1382" font-size="17" fill="#fff">2 cm</text>
<rect x="1270" y="1387" width="44" height="5" fill="#fff"/>
<path d="M1400,1012 L1430,1012 L1435,1050 L1425,1060 Z" fill="#3a3a3a"/>
<path d="M1470,1012 L1500,1012 L1490,1050 L1478,1060 Z" fill="#3a3a3a"/>
<line x1="1430" y1="1060" x2="1458" y2="1150" stroke="#cfe" stroke-width="1"/><line x1="1478" y1="1060" x2="1464" y2="1150" stroke="#cfe" stroke-width="1"/>
<rect x="1455" y="1140" width="14" height="100" fill="#888"/>
<rect x="1398" y="1230" width="145" height="150" fill="url(#wt)"/>
<rect x="1427" y="1034" width="70" height="130" fill="none" stroke="#f06a5a" stroke-width="3" stroke-dasharray="7,4"/>
<line x1="1527" y1="1164" x2="1512" y2="1133" stroke="#f06a5a" stroke-width="3"/><polygon points="1508,1124 1518,1136 1506,1138" fill="#f06a5a"/>
<ellipse cx="1470" cy="1302" rx="40" ry="27" fill="#fff"/>
<text x="1470" y="1309" font-size="18" text-anchor="middle">2 kg</text>
<text x="1484" y="1190" font-size="16" fill="#fff">14th day</text>
<text x="1479" y="1264" font-size="16" fill="#fff">14th day</text>
<text x="1504" y="1382" font-size="17" fill="#fff">2 cm</text>
<rect x="1506" y="1387" width="42" height="5" fill="#fff"/>
</svg>
</body></html>
